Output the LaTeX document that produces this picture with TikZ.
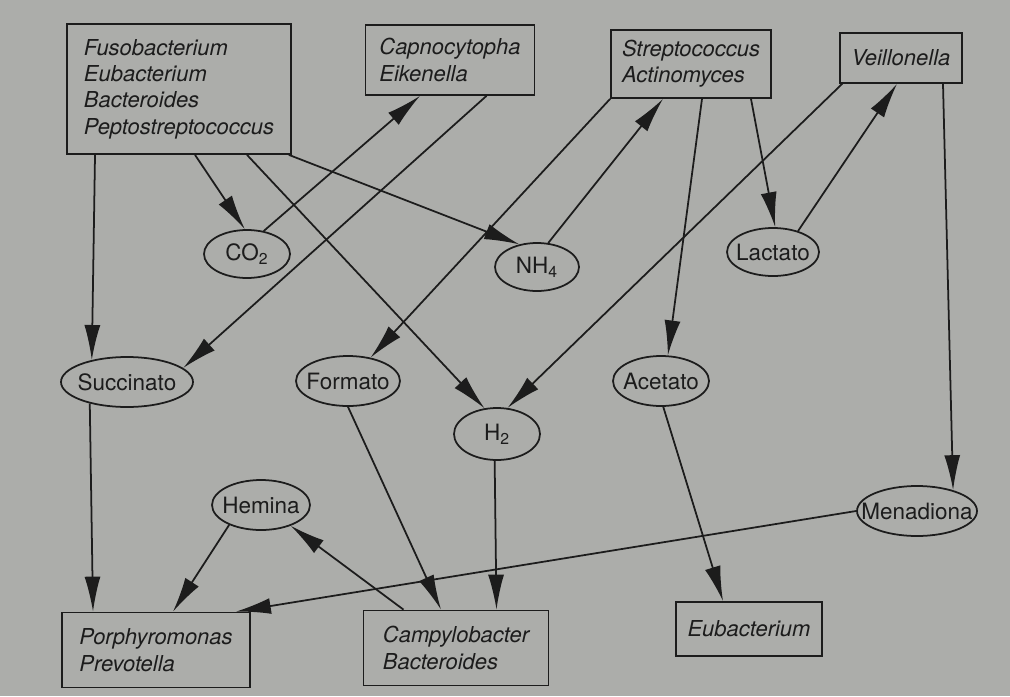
\documentclass[tikz,border=0pt]{standalone}
\usepackage{fontspec}
\setmainfont{TeX Gyre Heros}
\usetikzlibrary{arrows.meta,shapes.geometric}
\definecolor{paper}{RGB}{172,173,170}
\definecolor{ink}{RGB}{28,28,28}
\newcommand\tight[1]{\makebox[0pt]{#1}}

\begin{document}
\begin{tikzpicture}[x=.02cm,y=-.02cm,>={Latex[length=7mm,width=3.2mm]},
    box/.style={draw=ink,line width=1pt,align=left,inner sep=0pt,text=ink,
        font=\fontsize{12.5}{15}\selectfont\itshape},
    sub/.style={draw=ink,line width=1pt,ellipse,inner sep=0pt,text=ink,
        font=\fontsize{12.8}{15}\selectfont}]
    \fill[paper] (0,0) rectangle (1010,696);
    \useasboundingbox (0,0) rectangle (1010,696);

    \node[box,minimum width=4.48cm,minimum height=2.6cm] (fuso) at (179,89)
        {Fusobacterium\\Eubacterium\\Bacteroides\\Peptostreptococcus};
    \node[box,minimum width=3.38cm,minimum height=1.4cm] (capno) at (450,60) {Capnocytopha\\Eikenella};
    \node[box,minimum width=3.2cm,minimum height=1.36cm] (strep) at (691,64) {Streptococcus\\Actinomyces};
    \node[box,minimum width=2.44cm,minimum height=1cm] (veil) at (901,58) {Veillonella};
    \node[box,minimum width=3.76cm,minimum height=1.5cm] (porph) at (156,650) {Porphyromonas\\Prevotella};
    \node[box,minimum width=3.7cm,minimum height=1.5cm] (campy) at (456,648) {Campylobacter\\Bacteroides};
    \node[box,minimum width=2.92cm,minimum height=1.08cm] (eubac) at (749,629) {Eubacterium};

    \node[sub,minimum width=1.72cm,minimum height=.96cm] (co2) at (247,254) {\tight{CO\textsubscript{2}}};
    \node[sub,minimum width=1.68cm,minimum height=.96cm] (nh4) at (537,267) {\tight{NH\textsubscript{4}}};
    \node[sub,minimum width=1.84cm,minimum height=.96cm] (lact) at (773,252) {\tight{Lactato}};
    \node[sub,minimum width=2.64cm,minimum height=1cm] (succ) at (127,382) {\tight{Succinato}};
    \node[sub,minimum width=2.08cm,minimum height=1cm] (form) at (348,381) {\tight{Formato}};
    \node[sub,minimum width=1.92cm,minimum height=1cm] (acet) at (661,381) {\tight{Acetato}};
    \node[sub,minimum width=1.72cm,minimum height=1.04cm] (h2) at (497,434) {\tight{H\textsubscript{2}}};
    \node[sub,minimum width=1.96cm,minimum height=1cm] (hem) at (261,505) {\tight{Hemina}};
    \node[sub,minimum width=2.4cm,minimum height=1cm] (mena) at (917,511) {\tight{Menadiona}};

    \begin{scope}[draw=ink,line width=1pt]
    \draw[->] ([xshift=-1.68cm]fuso.south) -- (succ.148);
    \draw[->] ([xshift=.32cm]fuso.south) -- (co2.95);
    \draw[->] ([xshift=1.36cm]fuso.south) -- (h2.116);
    \draw[->] ([xshift=-.06cm]fuso.south east) -- (nh4.128);
    \draw[->] (co2.54) -- ([xshift=-.6cm]capno.south);
    \draw[->] ([xshift=.73cm]capno.south) -- (succ.14);
    \draw[->] (strep.south west) -- (form.46);
    \draw[->] (nh4.65) -- ([xshift=-.56cm]strep.south);
    \draw[->] ([xshift=.22cm]strep.south) -- (acet.75);
    \draw[->] ([xshift=1.2cm]strep.south) -- (lact.85);
    \draw[->] (lact.40) -- ([xshift=-.08cm]veil.south);
    \draw[->] ([xshift=.06cm]veil.south west) -- (h2.68);
    \draw[->] ([xshift=.84cm]veil.south) -- (mena.30);
    \draw[->] (succ.210) -- ([xshift=-1.26cm]porph.north);
    \draw[->] (form.south) -- ([xshift=-.3cm]campy.north);
    \draw[->] (h2.265) -- ([xshift=.81cm]campy.north);
    \draw[->] (acet.275) -- ([xshift=-.52cm]eubac.north);
    \draw[->] (hem.212) -- ([xshift=.34cm]porph.north);
    \draw[->] ([xshift=-1.05cm]campy.north) -- (hem.325);
    \draw[->] (mena.west) -- ([xshift=-.3cm]porph.north east);
    \end{scope}
\end{tikzpicture}
\end{document}
